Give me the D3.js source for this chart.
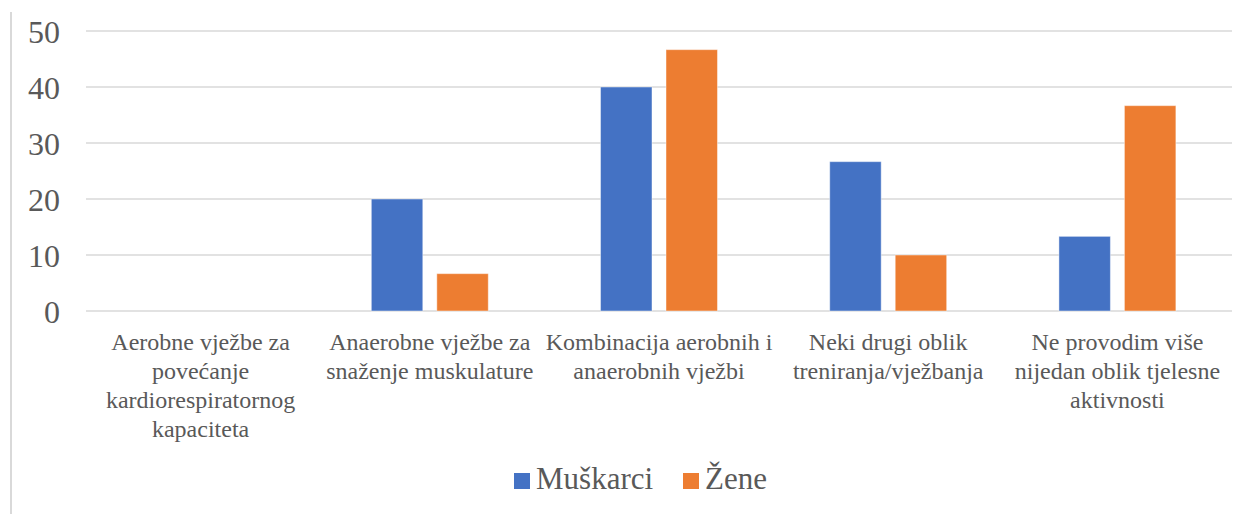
<!DOCTYPE html>
<html lang="hr">
<head>
    <meta charset="UTF-8">
    <title>Oblik tjelesne aktivnosti</title>
    <style>
        body { margin: 0; background: #fff; }
    </style>
    <script src="https://d3js.org/d3.v7.min.js"></script>
</head>
<body>
    <div id="chart"></div>
    <script>
        // podaci
        const categories = [
            "Aerobne vježbe za\npovećanje\nkardiorespiratornog\nkapaciteta",
            "Anaerobne vježbe za\nsnaženje muskulature",
            "Kombinacija aerobnih i\nanaerobnih vježbi",
            "Neki drugi oblik\ntreniranja/vježbanja",
            "Ne provodim više\nnijedan oblik tjelesne\naktivnosti"
        ];
        const seriesNames = ["Muškarci", "Žene"];
        const muskarci = [0, 20, 40, 26.67, 13.33];
        const zene = [0, 6.67, 46.67, 10, 36.67];
        const yTicks = [0, 10, 20, 30, 40, 50];
        const colors = ["#4472C4", "#ED7D31"];

        const width = 1248, height = 514;
        const plot = { left: 86, right: 1232, top: 31, bottom: 311 };
        const font = '"Liberation Serif"';

        const svg = d3.select("#chart").append("svg")
            .attr("width", width)
            .attr("height", height);

        // lijevi rub
        svg.append("line")
            .attr("x1", 11).attr("x2", 11)
            .attr("y1", 12).attr("y2", height)
            .attr("stroke", "#d9d9d9").attr("stroke-width", 2);

        const x0 = d3.scaleBand()
            .domain(d3.range(categories.length))
            .range([plot.left, plot.right]);

        const x1 = d3.scaleBand()
            .domain(seriesNames)
            .range([0, x0.bandwidth()])
            .paddingInner(0.214)
            .paddingOuter(0.857);

        const y = d3.scaleLinear()
            .domain([0, 50])
            .range([plot.bottom, plot.top]);

        // mreža
        svg.append("g")
            .selectAll("line")
            .data(yTicks)
            .join("line")
            .attr("x1", plot.left).attr("x2", plot.right)
            .attr("y1", d => y(d)).attr("y2", d => y(d))
            .attr("stroke", "#d9d9d9").attr("stroke-width", 1.5);

        // oznake osi y
        svg.append("g")
            .selectAll("text")
            .data(yTicks)
            .join("text")
            .attr("x", 60)
            .attr("y", d => y(d) + 11.5)
            .attr("text-anchor", "end")
            .style("font-family", font)
            .style("font-size", "32px")
            .style("fill", "#595959")
            .text(d => d);

        // stupci
        const values = [muskarci, zene];
        seriesNames.forEach((s, si) => {
            svg.append("g")
                .selectAll("rect")
                .data(values[si])
                .join("rect")
                .attr("x", (d, i) => x0(i) + x1(s))
                .attr("y", d => y(d))
                .attr("width", x1.bandwidth())
                .attr("height", d => y(0) - y(d))
                .attr("fill", colors[si])
                .attr("stroke", d => d > 0 ? "rgba(255,255,255,0.45)" : "none")
                .attr("stroke-width", 1);
        });

        // oznake kategorija
        const catG = svg.append("g")
            .selectAll("text")
            .data(categories)
            .join("text")
            .attr("text-anchor", "middle")
            .attr("x", (d, i) => x0(i) + x0.bandwidth() / 2)
            .attr("y", 350)
            .style("font-family", font)
            .style("font-size", "24px")
            .style("fill", "#595959");
        catG.selectAll("tspan")
            .data(d => d.split("\n"))
            .join("tspan")
            .attr("x", function () { return d3.select(this.parentNode).attr("x"); })
            .attr("dy", (d, i) => i === 0 ? 0 : 29)
            .text(d => d);

        // legenda
        const legendItems = [
            { name: seriesNames[0], color: colors[0], x: 514 },
            { name: seriesNames[1], color: colors[1], x: 683 }
        ];
        const lg = svg.append("g").selectAll("g")
            .data(legendItems)
            .join("g");
        lg.append("rect")
            .attr("x", d => d.x).attr("y", 473)
            .attr("width", 16).attr("height", 16)
            .attr("fill", d => d.color);
        lg.append("text")
            .attr("x", d => d.x + 22).attr("y", 489)
            .style("font-family", font)
            .style("font-size", "31px")
            .style("fill", "#595959")
            .text(d => d.name);
    </script>
</body>
</html>
